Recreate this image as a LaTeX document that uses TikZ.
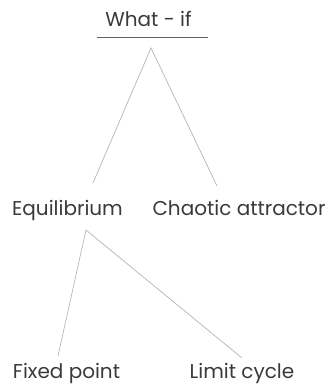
\documentclass[tikz,border=0pt]{standalone}
\usepackage{fontspec}
\setmainfont{Poppins}
\definecolor{txt}{HTML}{3A3A3A}
\definecolor{ln}{HTML}{B4B4B4}
\begin{document}
\begin{tikzpicture}[x=1pt,y=1pt,
  lbl/.style={anchor=base,inner sep=0pt,text=txt,font=\fontsize{20}{24}\selectfont},
  conn/.style={draw=ln,line width=0.7pt},
  rule/.style={draw=txt!80,line width=0.9pt}]
\useasboundingbox (0,0) rectangle (331,386);
\node[lbl] (wi) at (148.5,359) {What - if};
\node[lbl] (eq) at (67.5,170) {Equilibrium};
\node[lbl] (ca) at (239,170) {Chaotic attractor};
\node[lbl] (fp) at (66.5,8) {Fixed point};
\node[lbl] (lc) at (242,8) {Limit cycle};
\coordinate (ulA) at (97,349);
\coordinate (ulB) at (208,349);
\coordinate (ap1) at (151,338);
\coordinate (eqT) at (93,203);
\coordinate (caT) at (217,200);
\coordinate (ap2) at (86,156);
\coordinate (fpT) at (58,30);
\coordinate (lcT) at (242,28);
\draw[rule] (ulA) -- (ulB);
\draw[conn] (eqT) -- (ap1) -- (caT);
\draw[conn] (fpT) -- (ap2) -- (lcT);
\end{tikzpicture}
\end{document}
